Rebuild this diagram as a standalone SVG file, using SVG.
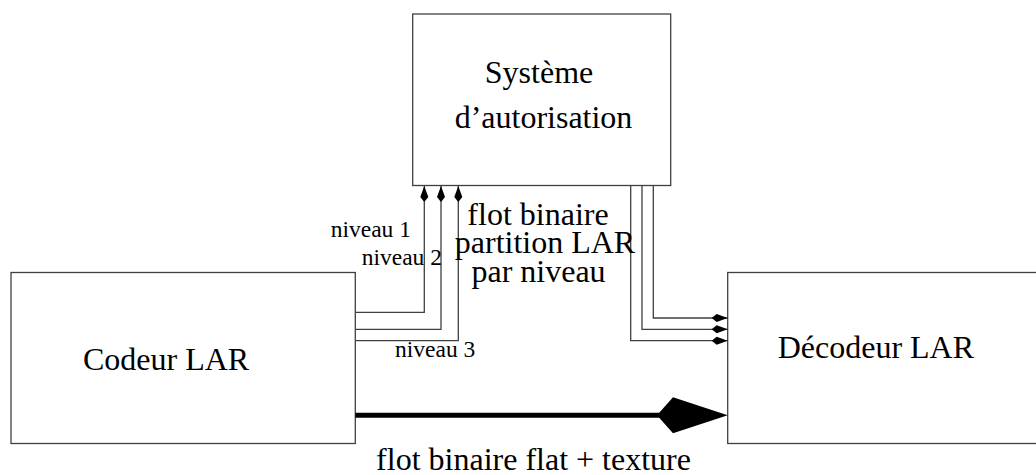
<svg xmlns="http://www.w3.org/2000/svg" width="1036" height="475" viewBox="0 0 1036 475">
<style>
.box{fill:#fff;stroke:#404040;stroke-width:1.3}
.wire{fill:none;stroke:#404040;stroke-width:1.3}
</style>
<defs>
<marker id="ah" markerUnits="userSpaceOnUse" markerWidth="18" markerHeight="10" viewBox="0 -5 18 10" refX="16" refY="0" orient="auto" overflow="visible">
<path d="M0,0 L5,-4 L16,0 L5,4 Z" fill="#000"/>
</marker>
</defs>
<g id="auth">
<rect class="box" x="412.7" y="14" width="258" height="171.5"/>
<text font-family="Liberation Serif" font-size="32" x="539" y="83" text-anchor="middle">Système</text>
<text font-family="Liberation Serif" font-size="32" x="543.5" y="128" text-anchor="middle">d’autorisation</text>
</g>
<g id="codeur">
<rect class="box" x="11" y="272.5" width="344.3" height="171"/>
<text font-family="Liberation Serif" font-size="32" x="83" y="370">Codeur LAR</text>
</g>
<g id="decodeur">
<rect class="box" x="727.7" y="272.5" width="320" height="171"/>
<text font-family="Liberation Serif" font-size="32" x="777.7" y="357.7">Décodeur LAR</text>
</g>
<g id="connectors">
<path class="wire" d="M355.3,312.3 H424.3 V186" marker-end="url(#ah)"/>
<path class="wire" d="M355.3,329.3 H441 V186" marker-end="url(#ah)"/>
<path class="wire" d="M355.3,340.7 H458.3 V186" marker-end="url(#ah)"/>
<path class="wire" d="M653.3,185.5 V318 H727.7" marker-end="url(#ah)"/>
<path class="wire" d="M642,185.5 V329.3 H727.7" marker-end="url(#ah)"/>
<path class="wire" d="M630.7,185.5 V340.7 H727.7" marker-end="url(#ah)"/>
<path d="M355.3,415.3 H700" fill="none" stroke="#000" stroke-width="5"/>
<path d="M657,415.3 L673,397.3 L727.7,415.3 L673,433.3 Z" fill="#000"/>
</g>
<g id="labels" fill="#000">
<text font-family="Liberation Serif" font-size="23.5" x="330.7" y="237.3">niveau 1</text>
<text font-family="Liberation Serif" font-size="23.5" x="361.7" y="265">niveau 2</text>
<text font-family="Liberation Serif" font-size="23.5" x="395" y="356.7">niveau 3</text>
<text font-family="Liberation Serif" font-size="32" x="538" y="225" text-anchor="middle">flot binaire</text>
<text font-family="Liberation Serif" font-size="32" x="545" y="253.3" text-anchor="middle">partition LAR</text>
<text font-family="Liberation Serif" font-size="32" x="538.5" y="281.5" text-anchor="middle">par niveau</text>
<text font-family="Liberation Serif" font-size="32" x="533.5" y="470" text-anchor="middle">flot binaire flat + texture</text>
</g>
</svg>
